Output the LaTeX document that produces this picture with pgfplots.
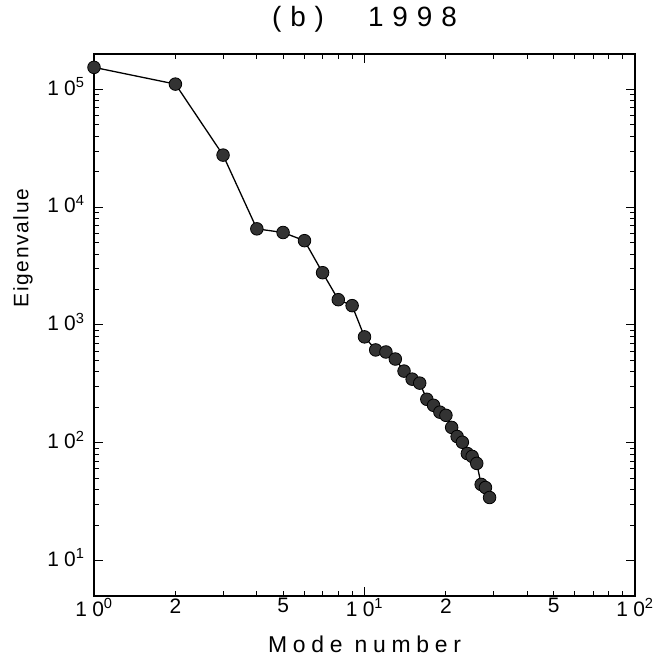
\documentclass[border=0pt]{standalone}
\usepackage{fontspec}
\setmainfont{Liberation Sans}[LetterSpace=25]
\newfontfamily\titlefont{Liberation Sans}[LetterSpace=32]
\newfontfamily\ylabfont{Liberation Sans}[LetterSpace=8]
\usepackage{pgfplots}
\pgfplotsset{compat=1.18}
\begin{document}
\begin{tikzpicture}
\useasboundingbox (0,0) rectangle (656bp,662bp);
\begin{axis}[
  at={(94bp,66bp)}, anchor=south west,
  scale only axis, width=541bp, height=542bp,
  xmode=log, ymode=log,
  xmin=1, xmax=100, ymin=5, ymax=2e5,
  axis line style={line width=1.2bp},
  tick style={line width=1bp, black},
  major tick length=9bp, minor tick length=5bp,
  tick align=inside, tick pos=both,
  xtick={1,10,100},
  xticklabels={10\textsuperscript{0},10\textsuperscript{1},10\textsuperscript{2}},
  extra x ticks={2,5,20,50},
  extra x tick labels={2,5,2,5},
  extra x tick style={major tick length=0pt},
  ytick={10,100,1000,10000,100000},
  yticklabels={10\textsuperscript{1},10\textsuperscript{2},10\textsuperscript{3},10\textsuperscript{4},10\textsuperscript{5}},
  ticklabel style={font=\fontsize{21}{23}\selectfont},
  yticklabel style={xshift=-6bp, yshift=3bp},
  xticklabel style={yshift=1bp},
  xlabel={Mode number}, ylabel={Eigenvalue}, title={(b)\hspace{44bp}1998},
  label style={font=\fontsize{23}{25}\selectfont},
  xlabel style={at={(axis description cs:0.5,-0.0886)}, anchor=center},
  ylabel style={font=\fontsize{21}{23}\selectfont\ylabfont, at={(axis description cs:-0.1312,0.642)}, anchor=center},
  title style={font=\fontsize{28}{30}\selectfont\titlefont, at={(axis description cs:0.5,1.0535)}, anchor=center},
]
\addplot[black, line width=1.3bp, mark=*, mark size=6.3bp,
  mark options={fill=black!80, draw=black, line width=0.8bp}] table {
x y
1 154000
2 111000
3 27700
4 6550
5 6100
6 5200
7 2780
8 1640
9 1460
10 793
11 614
12 590
13 514
14 406
15 347
16 321
17 234
18 208
19 182
20 171
21 135
22 113
23 101
24 81
25 76.6
26 66.8
27 44.3
28 41.7
29 34.3
};
\end{axis}
\end{tikzpicture}
\end{document}
